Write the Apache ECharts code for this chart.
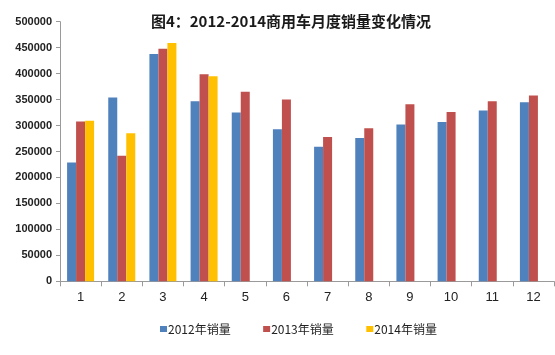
<!DOCTYPE html>
<html>
<head>
<meta charset="utf-8">
<script src="https://cdn.jsdelivr.net/npm/echarts@6/dist/echarts.min.js"></script>
<style>
html,body{margin:0;padding:0;background:#fff;}
#c{width:555px;height:355px;}
</style>
</head>
<body>
<div id="c"></div>
<script>
var months = ['1','2','3','4','5','6','7','8','9','10','11','12'];
var sales2012 = [229000, 354000, 438000, 347000, 325000, 293000, 259000, 276000, 302000, 307000, 329000, 345000];
var sales2013 = [308000, 242000, 448000, 399000, 365000, 350000, 278000, 295000, 341000, 326000, 347000, 358000];
var sales2014 = [309000, 285000, 459000, 395000, null, null, null, null, null, null, null, null];
var seriesNames = ['2012年销量', '2013年销量', '2014年销量'];
var yTicks = {min: 0, max: 500000, step: 50000};

var chart = echarts.init(document.getElementById('c'));
var font = '"Noto Sans CJK SC", "DejaVu Sans", sans-serif';
chart.setOption({
  animation: false,
  backgroundColor: '#fff',
  color: ['#4F81BD', '#C0504D', '#FFC000'],
  title: {
    text: '图4：2012-2014商用车月度销量变化情况',
    left: 286, top: 9, textAlign: 'center',
    textStyle: {fontSize: 15, fontWeight: 'bold', color: '#1a1a1a', fontFamily: font}
  },
  legend: {
    data: seriesNames,
    bottom: 15, left: 155,
    itemWidth: 7, itemHeight: 6, itemGap: 32.5,
    icon: 'rect',
    textStyle: {fontSize: 12, color: '#222', fontFamily: font, padding: [0,0,0,-4]}
  },
  grid: {left: 60, right: 1, top: 21.7, bottom: 73.7, containLabel: false},
  xAxis: {
    type: 'category',
    data: months,
    axisLine: {lineStyle: {color: '#9a9a9a'}},
    axisTick: {show: true, length: 5, lineStyle: {color: '#9a9a9a'}},
    axisLabel: {fontSize: 13, color: '#222', margin: 10, fontFamily: '"Liberation Sans", sans-serif'},
    splitLine: {show: false}
  },
  yAxis: {
    type: 'value',
    min: yTicks.min, max: yTicks.max, interval: yTicks.step,
    axisLine: {show: true, lineStyle: {color: '#9a9a9a'}},
    axisTick: {show: true, length: 4, lineStyle: {color: '#9a9a9a'}},
    axisLabel: {fontSize: 11, fontWeight: 'bold', color: '#222', margin: 8,
      fontFamily: '"Liberation Sans", sans-serif',
      formatter: function (v) { return String(v); }},
    splitLine: {show: false}
  },
  series: [
    {name: seriesNames[0], type: 'bar', data: sales2012, barWidth: 9, barGap: '0%'},
    {name: seriesNames[1], type: 'bar', data: sales2013, barWidth: 9, barGap: '0%'},
    {name: seriesNames[2], type: 'bar', data: sales2014, barWidth: 9, barGap: '0%'}
  ]
});
</script>
</body>
</html>
